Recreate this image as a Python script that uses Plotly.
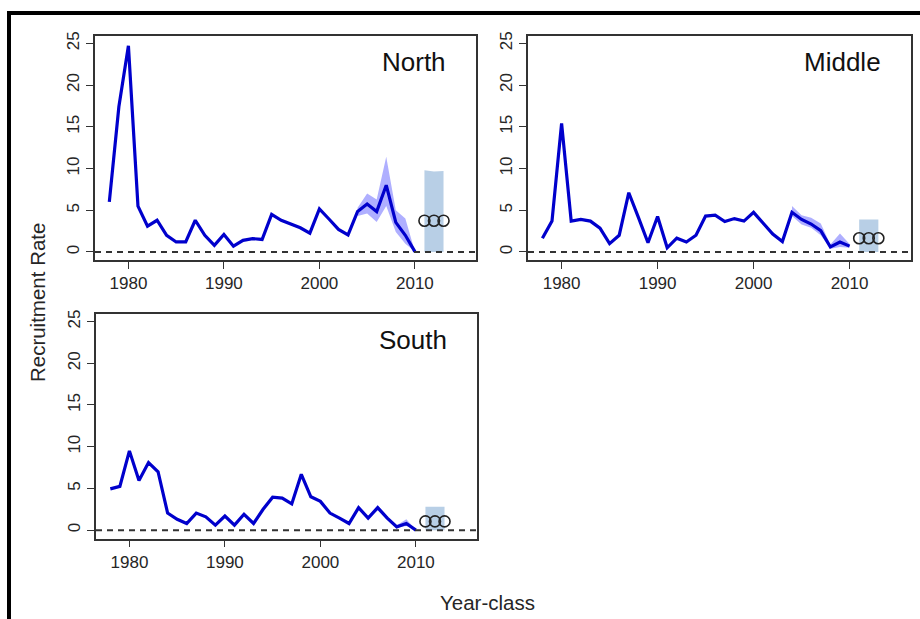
import plotly.graph_objects as go

# Year-classes with model estimates
years = list(range(1978, 2011))
proj_years = [2011, 2012, 2013]
band_years = list(range(2004, 2011))

north = [6.0, 17.4, 24.7, 5.5, 3.1, 3.8, 2.0, 1.2, 1.2, 3.8, 2.0, 0.8, 2.1, 0.7, 1.4,
         1.6, 1.5, 4.5, 3.8, 3.4, 2.9, 2.25, 5.15, 3.95, 2.7, 2.05, 4.85, 5.75, 4.85,
         8.0, 3.55, 2.0, 0.05]
north_hi = [5.3, 7.0, 6.3, 11.4, 5.0, 4.0, 0.05]
north_lo = [4.3, 4.6, 3.6, 5.5, 2.4, 1.0, 0.05]
north_proj = [3.75, 3.75, 3.75]
north_proj_hi = [9.8, 9.65, 9.7]

middle = [1.65, 3.7, 15.4, 3.7, 3.9, 3.7, 2.85, 1.0, 2.0, 7.1, 4.15, 1.1, 4.25, 0.5,
          1.65, 1.2, 2.0, 4.3, 4.4, 3.65, 4.0, 3.7, 4.75, 3.5, 2.15, 1.25, 4.75, 3.9,
          3.35, 2.55, 0.6, 1.2, 0.7]
middle_hi = [5.5, 4.4, 4.1, 3.4, 0.9, 2.2, 0.95]
middle_lo = [4.3, 3.3, 2.9, 2.0, 0.4, 0.6, 0.5]
middle_proj = [1.65, 1.65, 1.65]
middle_proj_hi = [3.9, 3.9, 3.9]

south = [4.95, 5.25, 9.5, 5.95, 8.1, 7.0, 2.05, 1.3, 0.8, 2.05, 1.6, 0.6, 1.7, 0.6,
         1.9, 0.8, 2.5, 3.95, 3.85, 3.15, 6.7, 4.0, 3.45, 2.05, 1.45, 0.8, 2.7, 1.45,
         2.7, 1.45, 0.4, 0.8, 0.0]
south_hi = [2.9, 1.6, 3.0, 1.7, 0.6, 1.3, 0.05]
south_lo = [2.5, 1.3, 2.4, 1.25, 0.3, 0.5, 0.0]
south_proj = [1.05, 1.05, 1.05]
south_proj_hi = [2.8, 2.8, 2.8]

panel_names = ["North", "Middle", "South"]
y_ticks = [0, 5, 10, 15, 20, 25]
x_ticks = [1980, 1990, 2000, 2010]

W, H = 920, 619
LINE = "#0000cc"
BAND = "rgba(110,110,255,0.55)"
PROJ = "rgb(184,207,230)"
AXC = "#333333"
TXT = "#262626"
FONT = "Liberation Sans, Arial, sans-serif"

# panel boxes in pixels: left, right, top, bottom
boxes = [(95, 476, 32, 258), (528, 911, 32, 258), (96, 477, 312, 538)]
series = [
    (north, north_hi, north_lo, north_proj, north_proj_hi),
    (middle, middle_hi, middle_lo, middle_proj, middle_proj_hi),
    (south, south_hi, south_lo, south_proj, south_proj_hi),
]

fig = go.Figure()
layout = dict(
    width=W, height=H, margin=dict(l=0, r=0, t=0, b=0),
    paper_bgcolor="white", plot_bgcolor="white", showlegend=False,
    font=dict(family=FONT, color=TXT),
)
shapes = []
annotations = []

for i, ((l, r, t, b), (vals, hi, lo, pv, phi), name) in enumerate(zip(boxes, series, panel_names)):
    n = "" if i == 0 else str(i + 1)
    xa, ya = "x" + n, "y" + n
    layout["xaxis" + n] = dict(
        domain=[l / W, r / W], range=[1976.5, 2016.4], anchor=ya,
        tickvals=x_ticks, ticks="outside", ticklen=7, tickwidth=1.3, tickcolor=AXC,
        showline=True, mirror=True, linecolor=AXC, linewidth=1.5,
        showgrid=False, zeroline=False, tickfont=dict(size=17, family=FONT, color=TXT),
    )
    layout["yaxis" + n] = dict(
        domain=[1 - b / H, 1 - t / H], range=[-1, 25.9], anchor=xa,
        tickvals=y_ticks, ticks="outside", ticklen=7, tickwidth=1.3, tickcolor=AXC,
        tickangle=-90, showline=True, mirror=True, linecolor=AXC, linewidth=1.5,
        showgrid=False, zeroline=False, tickfont=dict(size=17, family=FONT, color=TXT),
    )
    # projection block for the most recent year-classes
    fig.add_trace(go.Scatter(
        x=proj_years + proj_years[::-1], y=phi + [0, 0, 0],
        fill="toself", fillcolor=PROJ, line=dict(width=0), mode="lines",
        xaxis=xa, yaxis=ya, hoverinfo="skip"))
    # uncertainty band on recent estimates
    fig.add_trace(go.Scatter(
        x=band_years + band_years[::-1], y=hi + lo[::-1],
        fill="toself", fillcolor=BAND, line=dict(width=0), mode="lines",
        xaxis=xa, yaxis=ya, hoverinfo="skip"))
    fig.add_trace(go.Scatter(
        x=years, y=vals, mode="lines", line=dict(color=LINE, width=3.2),
        xaxis=xa, yaxis=ya))
    fig.add_trace(go.Scatter(
        x=proj_years, y=pv, mode="markers",
        marker=dict(symbol="circle-open", size=11, color="#222222", line=dict(width=1.6)),
        xaxis=xa, yaxis=ya))
    # zero reference line
    shapes.append(dict(type="line", xref=xa + " domain", yref=ya, x0=0, x1=1, y0=0, y1=0,
                       line=dict(color=AXC, width=2, dash="6px,5px")))
    annotations.append(dict(
        text=name, xref="paper", yref="paper", x=(r - 28) / W, y=1 - (t + 26) / H,
        xanchor="right", yanchor="middle", showarrow=False,
        font=dict(size=26, family=FONT, color="#111111")))

annotations.append(dict(text="Year-class", xref="paper", yref="paper", x=487 / W, y=1 - 602 / H,
                        xanchor="center", yanchor="middle", showarrow=False,
                        font=dict(size=20.5, family=FONT, color=TXT)))
annotations.append(dict(text="Recruitment Rate", xref="paper", yref="paper", x=37 / W, y=1 - 300 / H,
                        xanchor="center", yanchor="middle", showarrow=False, textangle=-90,
                        font=dict(size=20.5, family=FONT, color=TXT)))

# outer frame: top and left rules
shapes.append(dict(type="line", xref="paper", yref="paper", x0=7 / W, x1=1, y0=1 - 9 / H, y1=1 - 9 / H,
                   line=dict(color="black", width=4)))
shapes.append(dict(type="line", xref="paper", yref="paper", x0=9 / W, x1=9 / W, y0=0, y1=1 - 7 / H,
                   line=dict(color="black", width=4)))

layout["shapes"] = shapes
layout["annotations"] = annotations
fig.update_layout(**layout)
fig.write_html("out.html")
